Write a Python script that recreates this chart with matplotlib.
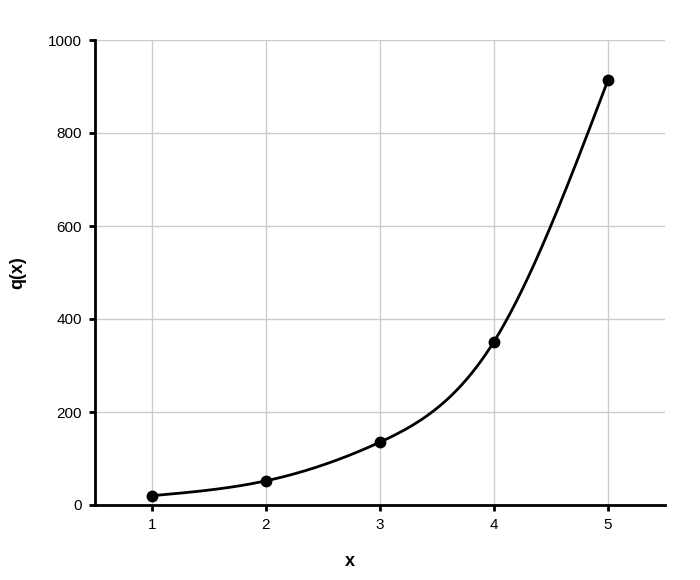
import numpy as np
import matplotlib.pyplot as plt

plt.rcParams['font.family'] = ['Liberation Sans', 'DejaVu Sans']

# data
x_vals = [1, 2, 3, 4, 5]
q_vals = [20, 52, 135.2, 351.5, 913.9]
x_ticks = [1, 2, 3, 4, 5]
y_ticks = [0, 200, 400, 600, 800, 1000]


def natural_spline(xs, ys, n=300):
    # smooth line through the points (natural cubic spline), for drawing only
    xs = np.asarray(xs, float)
    ys = np.asarray(ys, float)
    k = len(xs)
    h = np.diff(xs)
    A = np.zeros((k, k))
    b = np.zeros(k)
    A[0, 0] = A[-1, -1] = 1
    for i in range(1, k - 1):
        A[i, i - 1] = h[i - 1]
        A[i, i] = 2 * (h[i - 1] + h[i])
        A[i, i + 1] = h[i]
        b[i] = 3 * ((ys[i + 1] - ys[i]) / h[i] - (ys[i] - ys[i - 1]) / h[i - 1])
    c = np.linalg.solve(A, b)
    xx = np.linspace(xs[0], xs[-1], n)
    yy = np.empty_like(xx)
    for j, t in enumerate(xx):
        i = min(np.searchsorted(xs, t, side='right') - 1, k - 2)
        d = t - xs[i]
        bi = (ys[i + 1] - ys[i]) / h[i] - h[i] * (2 * c[i] + c[i + 1]) / 3
        di = (c[i + 1] - c[i]) / (3 * h[i])
        yy[j] = ys[i] + bi * d + c[i] * d ** 2 + di * d ** 3
    return xx, yy


fig = plt.figure(figsize=(7, 5.8), dpi=100)
ax = fig.add_axes([95 / 700, 75 / 580, 570 / 700, 465 / 580])

sx, sy = natural_spline(x_vals, q_vals)
ax.plot(sx, sy, color='black', lw=2, zorder=3)
ax.plot(x_vals, q_vals, 'o', color='black', ms=7.5, zorder=4)

ax.set_xlim(0.5, 5.5)
ax.set_ylim(0, 1000)
ax.set_xticks(x_ticks)
ax.set_yticks(y_ticks)
ax.grid(True, color='#cccccc', lw=1)
ax.set_axisbelow(True)

for s in ['top', 'right']:
    ax.spines[s].set_visible(False)
for s in ['left', 'bottom']:
    ax.spines[s].set_linewidth(2)
    ax.spines[s].set_color('black')

ax.tick_params(axis='both', length=4.5, width=2, direction='out', labelsize=11, pad=5)

ax.set_xlabel('x', fontsize=13, fontweight='bold', va='center')
ax.set_ylabel('q(x)', fontsize=13, fontweight='bold', va='center')
ax.xaxis.set_label_coords(0.5 - 0.9 / 570 * 0 + (350 - 380) / 570, (505 - 562) / 465)
ax.yaxis.set_label_coords((18 - 95) / 570, 0.5 - (272 - 272) / 465)

fig.savefig('out.png', dpi=100)
